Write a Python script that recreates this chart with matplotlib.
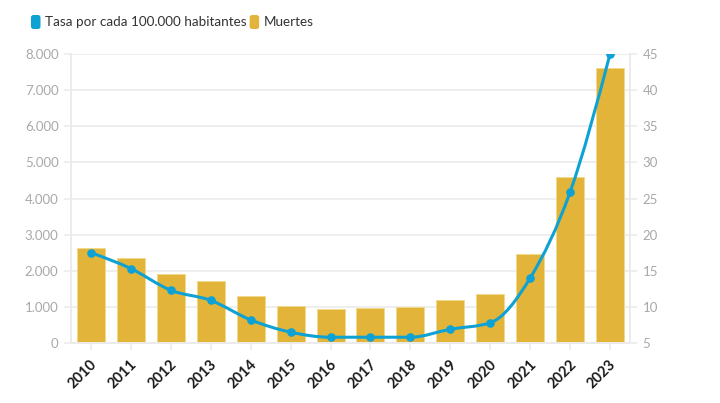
"""Muertes y tasa por cada 100.000 habitantes, 2010-2023."""

import matplotlib

matplotlib.use("Agg")
import matplotlib.pyplot as plt
import matplotlib.transforms as mtransforms
import numpy as np
from matplotlib.patches import FancyBboxPatch, PathPatch
from matplotlib.path import Path

plt.rcParams["font.family"] = ["Lato", "DejaVu Sans"]

years = ["2010", "2011", "2012", "2013", "2014", "2015", "2016",
         "2017", "2018", "2019", "2020", "2021", "2022", "2023"]
muertes = [2620, 2340, 1910, 1720, 1300, 1030, 940, 960, 990, 1180, 1365, 2455, 4600, 7620]
tasa = [17.5, 15.3, 12.3, 10.9, 8.2, 6.5, 5.8, 5.8, 5.8, 6.9, 7.8, 14.0, 25.9, 45.0]
left_ticks = [0, 1000, 2000, 3000, 4000, 5000, 6000, 7000, 8000]
right_ticks = [5, 10, 15, 20, 25, 30, 35, 40, 45]

GOLD = "#e2b53a"
BLUE = "#0ea2d4"
GRID = "#ebebeb"
TICK = "#a8a8a8"
W, H = 720, 403


def monotone_path(xs, ys):
    """Cubic Bezier path through the points, monotone in x (like d3 curveMonotoneX)."""
    xs, ys = np.asarray(xs, float), np.asarray(ys, float)
    n = len(xs)
    h = np.diff(xs)
    s = np.diff(ys) / h
    t = np.zeros(n)
    for i in range(1, n - 1):
        p = (s[i - 1] * h[i] + s[i] * h[i - 1]) / (h[i - 1] + h[i])
        t[i] = (np.sign(s[i - 1]) + np.sign(s[i])) * min(abs(s[i - 1]), abs(s[i]), 0.5 * abs(p))
    t[0] = (3 * s[0] - t[1]) / 2
    t[-1] = (3 * s[-1] - t[-2]) / 2
    verts, codes = [(xs[0], ys[0])], [Path.MOVETO]
    for i in range(n - 1):
        dx = h[i] / 3
        verts += [(xs[i] + dx, ys[i] + dx * t[i]),
                  (xs[i + 1] - dx, ys[i + 1] - dx * t[i + 1]),
                  (xs[i + 1], ys[i + 1])]
        codes += [Path.CURVE4] * 3
    return Path(verts, codes)


fig = plt.figure(figsize=(W / 100, H / 100), dpi=100)
ax = fig.add_axes([71 / W, (H - 343) / H, (630 - 71) / W, (343 - 54) / H])
ax2 = ax.twinx()

x = np.arange(len(years))
ax.bar(x, muertes, width=0.7, color=GOLD, edgecolor="#f2d98c", linewidth=0.7, zorder=2)
ax.set_xlim(-0.5, len(years) - 0.5)
ax.set_ylim(0, 8000)
ax.set_yticks(left_ticks)
ax.set_yticklabels([f"{v:,}".replace(",", ".") for v in left_ticks])
ax.grid(axis="y", color=GRID, linewidth=1.2, zorder=0)
ax.set_axisbelow(True)

ax2.set_ylim(5, 45)
ax2.set_yticks(right_ticks)
ax2.add_patch(PathPatch(monotone_path(x, tasa), facecolor="none", edgecolor=BLUE,
                        linewidth=2.2, zorder=3, capstyle="round"))
ax2.plot(x, tasa, "o", color=BLUE, markersize=5.2, zorder=4)

for a in (ax, ax2):
    a.spines["top"].set_visible(False)
    for side in ("left", "right", "bottom"):
        a.spines[side].set_color(GRID)
        a.spines[side].set_linewidth(1.2)
    a.tick_params(axis="y", colors=GRID, labelcolor=TICK, labelsize=9.5, length=5, width=1.2, pad=4)

ax.set_xticks(x)
ax.set_xticklabels(years, rotation=45, ha="right", va="center", rotation_mode="anchor",
                   fontweight="bold", fontsize=10.5, color="#1a1a1a")
ax.tick_params(axis="x", colors=GRID, labelcolor="#1a1a1a", length=5, width=1.2, pad=9)
offset = mtransforms.ScaledTranslation(4 / 100, 0, fig.dpi_scale_trans)
for lbl in ax.get_xticklabels():
    lbl.set_transform(lbl.get_transform() + offset)

# legend drawn in pixel coordinates
leg = fig.add_axes([0, 0, 1, 1])
leg.set_xlim(0, W)
leg.set_ylim(H, 0)
leg.axis("off")
leg.add_patch(FancyBboxPatch((31, 15), 9.5, 14, boxstyle="round,pad=0,rounding_size=2.5",
                             facecolor=BLUE, edgecolor="none"))
t1 = leg.text(45, 22, "Tasa por cada 100.000 habitantes", fontsize=9.7, color="#333333",
              va="center", ha="left")
fig.canvas.draw()
x_end = t1.get_window_extent().x1
leg.add_patch(FancyBboxPatch((x_end + 3, 15), 9.5, 14, boxstyle="round,pad=0,rounding_size=2.5",
                             facecolor=GOLD, edgecolor="none"))
leg.text(x_end + 17, 22, "Muertes", fontsize=9.7, color="#333333", va="center", ha="left")

fig.savefig("out.png", dpi=100)
